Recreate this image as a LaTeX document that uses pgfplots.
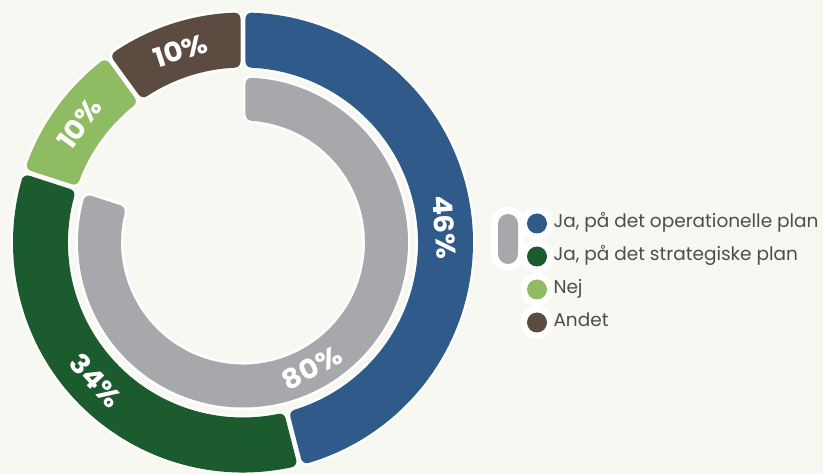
\documentclass[border=0pt]{standalone}
\usepackage{fontspec}
\setmainfont{Poppins}
\usepackage{pgfplots}
\pgfplotsset{compat=1.18}
\definecolor{bg}{HTML}{F8F8F3}
\definecolor{opblue}{HTML}{2F5A89}
\definecolor{stgreen}{HTML}{1B5B2E}
\definecolor{nejgreen}{HTML}{8FBC63}
\definecolor{andet}{HTML}{5C4B40}
\definecolor{ringgrey}{HTML}{A7A8AB}
\definecolor{legtext}{HTML}{4D4D4D}

% annular sector with rounded corners: white halo, then coloured body
\pgfdeclareplotmark{donutsector}{%
  \pgfmathsetmacro\sa{90-3.6*\sstart}%
  \pgfmathsetmacro\ea{90-3.6*\send}%
  \def\dd{8.5}%
  \pgfmathsetmacro\Ro{\rout-\dd}%
  \pgfmathsetmacro\Ri{\rin+\dd}%
  \pgfmathsetmacro\dao{asin(\dd/\Ro)}%
  \pgfmathsetmacro\dai{asin(\dd/\Ri)}%
  \pgfmathsetmacro\sao{\sa-\dao}\pgfmathsetmacro\eao{\ea+\dao}%
  \pgfmathsetmacro\sai{\sa-\dai}\pgfmathsetmacro\eai{\ea+\dai}%
  \def\sectpath{%
    \pgfpathmoveto{\pgfpointpolar{\sao}{\Ro pt}}%
    \pgfpatharc{\sao}{\eao}{\Ro pt}%
    \pgfpathlineto{\pgfpointpolar{\eai}{\Ri pt}}%
    \pgfpatharc{\eai}{\sai}{\Ri pt}%
    \pgfpathclose}%
  \pgfsetroundjoin
  \sectpath
  \pgfsetlinewidth{17pt}%
  \pgfsetstrokecolor{white}%
  \pgfusepath{stroke}%
  \sectpath
  \pgfsetlinewidth{12pt}%
  \pgfsetstrokecolor{\scol}\pgfsetfillcolor{\scol}%
  \pgfusepath{fill,stroke}%
}

\pgfplotsset{
  donut/.style={
    only marks, mark=donutsector,
    visualization depends on={value \thisrow{start}\as\sstart},
    visualization depends on={value \thisrow{end}\as\send},
    visualization depends on={value \thisrow{rin}\as\rin},
    visualization depends on={value \thisrow{rout}\as\rout},
    visualization depends on={value \thisrow{share}\as\share},
    visualization depends on={value \thisrow{lpos}\as\lpos},
    visualization depends on={value \thisrow{lrad}\as\lrad},
    visualization depends on={value \thisrow{col}\as\scol},
    nodes near coords={\share\%},
    every node near coord/.append style={
      /utils/exec={%
        \pgfmathsetmacro\lang{90-3.6*\lpos}%
        \pgfmathsetmacro\lrot{mod(-3.6*\lpos+720,360)}%
        \pgfmathsetmacro\lrot{(\lrot>90 && \lrot<270) ? \lrot-180 : \lrot}%
      },
      anchor=center, shift={(\lang:\lrad pt)}, rotate=\lrot, xscale=1.08,
      text=white, font=\fontsize{27}{27}\selectfont\bfseries, inner sep=0pt
    },
  },
  legcircle/.style={
    legend image code/.code={
      \fill[white, draw=none] (0pt,0pt) circle (16.5pt);
      \fill[#1, draw=none] (0pt,0pt) circle (10pt);
    }
  }
}

\begin{document}
\begin{tikzpicture}
\fill[bg] (0,0) rectangle (823pt,474pt);
\begin{axis}[
  at={(0,0)}, anchor=south west,
  x=1pt, y=1pt,
  xmin=-243, xmax=580, ymin=-231.5, ymax=242.5,
  hide axis, clip=false,
  legend cell align=left,
  legend style={
    at={(axis cs:277.5,35.5)}, anchor=north west,
    draw=none, fill=none, inner sep=0pt, outer sep=0pt,
    row sep=0pt, column sep=0pt,
    font=\fontsize{18.5}{20}\selectfont, text=legtext,
    nodes={inner sep=0pt, text height=13pt, text depth=4.5pt, anchor=west},
    cells={anchor=west},
  },
]
% legend pill for the inner ring
\fill[white, rounded corners=17pt] (axis cs:248,-28.5) rectangle (axis cs:282,35.5);
\fill[ringgrey, rounded corners=10pt] (axis cs:255,-21.5) rectangle (axis cs:275,28.5);

\addplot[donut, legcircle=opblue] table[x expr=0, y expr=0] {
start end share rin rout lpos lrad col
0 46 46 172.5 232.5 23.8 202 opblue
};
\addlegendentry{Ja, på det operationelle plan}
\addplot[donut, legcircle=stgreen] table[x expr=0, y expr=0] {
start end share rin rout lpos lrad col
46 80 34 172.5 232.5 63 202 stgreen
};
\addlegendentry{Ja, på det strategiske plan}
\addplot[donut, legcircle=nejgreen] table[x expr=0, y expr=0] {
start end share rin rout lpos lrad col
80 90 10 172.5 232.5 85 202 nejgreen
};
\addlegendentry{Nej}
\addplot[donut, legcircle=andet] table[x expr=0, y expr=0] {
start end share rin rout lpos lrad col
90 100 10 172.5 232.5 95 202 andet
};
\addlegendentry{Andet}
\addplot[donut, forget plot] table[x expr=0, y expr=0] {
start end share rin rout lpos lrad col
0 80 80 119.5 167.5 42 143 ringgrey
};
\end{axis}
\pgfresetboundingbox
\path (0,0) rectangle (823pt,474pt);
\end{tikzpicture}
\end{document}
